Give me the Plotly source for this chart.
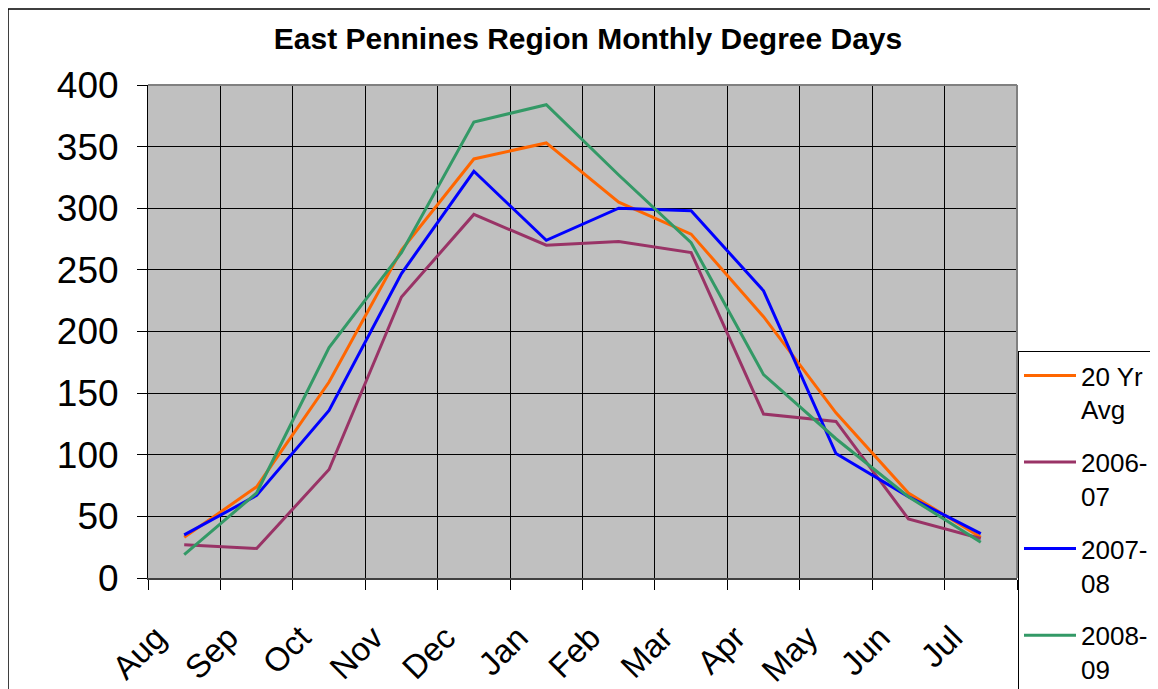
import plotly.graph_objects as go

months = ["Aug", "Sep", "Oct", "Nov", "Dec", "Jan", "Feb", "Mar", "Apr", "May", "Jun", "Jul"]
avg20 = [33, 74, 159, 266, 340, 353, 305, 279, 212, 134, 69, 33]
y0607 = [27, 24, 88, 228, 295, 270, 273, 264, 133, 127, 48, 32]
y0708 = [35, 67, 136, 247, 330, 274, 300, 298, 233, 101, 66, 36]
y0809 = [19, 69, 187, 264, 370, 384, 327, 272, 165, 113, 66, 29]
series_names = ["20 Yr<br>Avg", "2006-<br>07", "2007-<br>08", "2008-<br>09"]
series_vals = [avg20, y0607, y0708, y0809]
colors = ["#FF6600", "#993366", "#0000FF", "#339966"]
yticks = [0, 50, 100, 150, 200, 250, 300, 350, 400]

# page body adds an 8px offset, so figure coords = screen coords - 8
W, H = 1158, 689
L, R, T, B = 140, 1009, 77, 570

fig = go.Figure()
for i, (nm, vals, c) in enumerate(zip(series_names, series_vals, colors)):
    fig.add_trace(go.Scatter(x=months, y=vals, name=nm, mode="lines",
                             line=dict(color=c, width=3), legendgroup=str(i)))

def px2paper_x(px):
    return (px - L) / (R - L)

def px2paper_y(py):
    return (B - py) / (B - T)

fig.update_layout(
    width=W, height=H,
    margin=dict(l=L, r=W - R, t=T, b=H - B, pad=0, autoexpand=False),
    paper_bgcolor="white",
    plot_bgcolor="#C0C0C0",
    font=dict(family="Liberation Sans, Arial, sans-serif", color="black"),
    title=dict(text="<b>East Pennines Region Monthly Degree Days</b>",
               font=dict(size=30, family="Liberation Sans, Arial, sans-serif"),
               xref="container", x=(588 - 8) / W, xanchor="center",
               yref="container", y=1 - 30 / H, yanchor="middle", automargin=False),
    xaxis=dict(type="category", categoryorder="array", categoryarray=months,
               tickson="boundaries", ticks="outside", ticklen=10, tickcolor="black",
               showgrid=True, gridcolor="black", gridwidth=1,
               tickangle=-45, tickfont=dict(size=33),
               ticklabelshift=-28, ticklabelstandoff=25,
               showline=True, linecolor="#404040", linewidth=2,
               range=[-0.5, 11.5], fixedrange=True, automargin=False),
    yaxis=dict(range=[0, 400], tickvals=yticks, ticks="outside", ticklen=10,
               tickcolor="black", showgrid=True, gridcolor="black", gridwidth=1,
               tickfont=dict(size=37), ticklabelstandoff=11,
               showline=True, linecolor="black", linewidth=1, zeroline=False,
               automargin=False),
    legend=dict(x=px2paper_x(1010), xanchor="left", y=px2paper_y(343), yanchor="top",
                bordercolor="black", borderwidth=1, bgcolor="white",
                font=dict(size=26), valign="top", tracegroupgap=16,
                itemwidth=52),
    shapes=[
        dict(type="line", xref="paper", yref="paper", x0=0, x1=1, y0=1, y1=1,
             line=dict(color="#808080", width=2)),
        dict(type="line", xref="paper", yref="paper", x0=1, x1=1, y0=0, y1=1,
             line=dict(color="#808080", width=2)),
        dict(type="rect", xref="paper", yref="paper",
             x0=px2paper_x(0), x1=px2paper_x(1170),
             y0=px2paper_y(700), y1=px2paper_y(1),
             line=dict(color="black", width=1.5)),
    ],
    showlegend=True,
)

fig.write_html("out.html")
